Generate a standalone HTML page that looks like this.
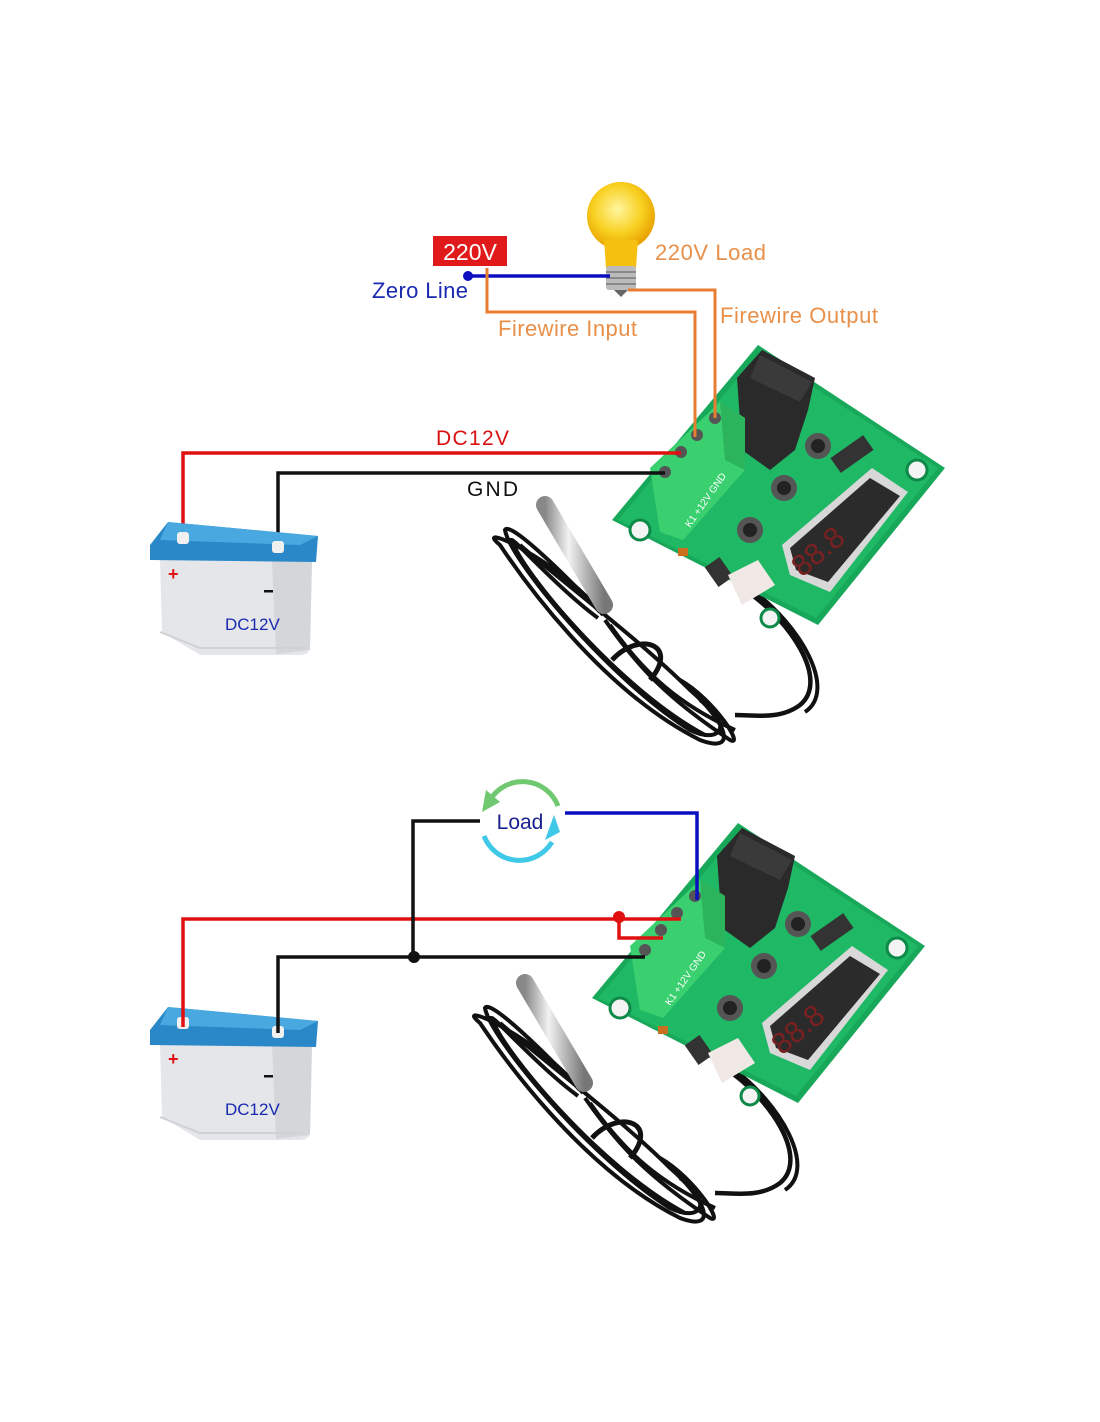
<!DOCTYPE html>
<html><head><meta charset="utf-8"><style>
html,body{margin:0;padding:0;background:#fff;}
svg{display:block;}
text{font-family:"Liberation Sans",sans-serif;}
</style></head><body>
<svg width="1100" height="1422" viewBox="0 0 1100 1422" xmlns="http://www.w3.org/2000/svg">
<defs>
<radialGradient id="bulb" cx="0.45" cy="0.4" r="0.6"><stop offset="0" stop-color="#fff6a0"/><stop offset="0.6" stop-color="#f8d020"/><stop offset="1" stop-color="#e8a000"/></radialGradient>
<linearGradient id="probe" x1="0" y1="0" x2="1" y2="0"><stop offset="0" stop-color="#888"/><stop offset="0.4" stop-color="#f2f2f2"/><stop offset="1" stop-color="#777"/></linearGradient>
<g id="board">
  <polygon points="612,520 758,345 945,468 818,625" fill="#17a85a"/>
  <polygon points="618,520 760,352 938,468 816,618" fill="#1fb865"/>
  <circle cx="640" cy="530" r="10" fill="#f4f4f4" stroke="#0e8a48" stroke-width="3"/>
  <circle cx="917" cy="470" r="10" fill="#f4f4f4" stroke="#0e8a48" stroke-width="3"/>
  <circle cx="770" cy="618" r="9" fill="#f4f4f4" stroke="#0e8a48" stroke-width="3"/>
  <polygon points="737,378 762,350 815,378 808,410 795,450 770,470 742,450" fill="#2a2a2a"/>
  <polygon points="760,355 812,382 800,402 750,378" fill="#3a3a3a"/>
  <polygon points="650,468 720,402 745,418 745,470 683,540 660,532" fill="#3ad070"/>
  <polygon points="720,402 745,418 745,470 725,460" fill="#2cb45c"/>
  <circle cx="665" cy="472" r="6" fill="#555"/><circle cx="681" cy="452" r="6" fill="#555"/>
  <circle cx="697" cy="435" r="6" fill="#555"/><circle cx="715" cy="418" r="6" fill="#555"/>
  <polygon points="782,545 872,468 908,492 830,592 790,575" fill="#d8d8d8"/>
  <polygon points="790,548 870,478 900,496 828,582 796,570" fill="#2b2b2b"/>
  <text x="0" y="0" font-size="30" fill="#7a2020" transform="translate(802,578) rotate(-40)">88.8</text>
  <rect x="832" y="445" width="40" height="18" fill="#333" transform="rotate(-35 852 454)"/>
  <circle cx="818" cy="446" r="13" fill="#555"/><circle cx="818" cy="446" r="7" fill="#222"/>
  <circle cx="784" cy="488" r="13" fill="#555"/><circle cx="784" cy="488" r="7" fill="#222"/>
  <circle cx="750" cy="530" r="13" fill="#555"/><circle cx="750" cy="530" r="7" fill="#222"/>
  <rect x="710" y="560" width="18" height="24" fill="#333" transform="rotate(-35 719 572)"/>
  <rect x="678" y="548" width="10" height="8" fill="#c87020"/>
  <polygon points="728,575 758,560 775,585 742,605" fill="#f0e8e4"/>
  <text x="0" y="0" font-size="10" fill="#fff" transform="translate(690,528) rotate(-55)">K1 +12V GND</text>
</g>
<g id="sensor" fill="none" stroke="#111" stroke-width="4">
  <path d="M603 615 C560 560 470 520 500 545 C520 575 600 690 700 740 C740 755 725 720 690 690 C640 640 560 580 520 545"/>
  <path d="M600 612 C570 580 510 520 505 530 C510 560 610 680 690 730 C720 745 735 725 700 700"/>
  <path d="M598 618 C560 590 515 540 512 540 C520 570 620 690 705 735"/>
  <path d="M605 620 C640 670 670 700 730 740 C745 748 715 700 680 680"/>
  <path d="M610 625 C645 675 680 705 735 730"/>
  <path d="M745 590 C790 620 830 680 800 705 C780 720 755 715 735 715" stroke-width="4.5"/>
  <path d="M752 590 C800 625 838 690 805 712"/>
  <path d="M612 660 C640 630 680 645 650 680" stroke-width="5"/>
  <line x1="545" y1="505" x2="604" y2="605" stroke="url(#probe)" stroke-width="18" stroke-linecap="round"/>
</g>
</defs>

<!-- TOP -->
<use href="#sensor"/>
<use href="#board"/>
<circle cx="621" cy="216" r="34" fill="url(#bulb)"/>
<path d="M604 240 L606 268 L636 268 L638 240 Z" fill="#f5c010"/>
<rect x="606" y="266" width="30" height="24" rx="3" fill="#bbb"/>
<path d="M606 272 H636 M606 278 H636 M606 284 H636" stroke="#777" stroke-width="1.5"/>
<path d="M614 290 H628 L621 297 Z" fill="#666"/>
<polyline points="183,542 183,453 681,453" fill="none" stroke="#e01010" stroke-width="3.5"/>
<polyline points="278,548 278,473 665,473" fill="none" stroke="#111" stroke-width="3.5"/>
<line x1="468" y1="276" x2="610" y2="276" stroke="#0a10c0" stroke-width="3.5"/>
<circle cx="468" cy="276" r="5" fill="#0a10c0"/>
<polyline points="487,268 487,312 695,312 695,437" fill="none" stroke="#e87c30" stroke-width="3"/>
<polyline points="628,290 715,290 715,418" fill="none" stroke="#e87c30" stroke-width="3"/>
<rect x="433" y="236" width="74" height="30" fill="#e01a1a"/>
<text x="470" y="260" font-size="23" fill="#fff" text-anchor="middle">220V</text>
<text x="372" y="298" font-size="22" fill="#1a2ab0" textLength="96">Zero Line</text>
<text x="655" y="260" font-size="22" fill="#e8904a" textLength="111">220V Load</text>
<text x="498" y="336" font-size="22" fill="#e8904a" textLength="139">Firewire Input</text>
<text x="720" y="323" font-size="22" fill="#e8904a" textLength="158">Firewire Output</text>
<text x="436" y="445" font-size="21" fill="#d81010" textLength="73">DC12V</text>
<text x="467" y="496" font-size="21" fill="#111" textLength="51">GND</text>

<g id="batt">
<path d="M160,560 H312 L310,648 Q308,656 298,655 H200 L162,632 Z" fill="#e4e6ea"/>
<polygon points="272,560 312,560 310,650 276,654" fill="#d4d6da"/>
<path d="M160,632 L200,648 H305" fill="none" stroke="#cfd1d5" stroke-width="2"/>
<polygon points="150,545 168,522 318,536 316,562 150,560" fill="#2a88c8"/>
<polygon points="168,522 318,536 300,545 160,540" fill="#4aa8e0"/>
<rect x="177" y="532" width="12" height="12" rx="3" fill="#f0f0f0"/>
<rect x="272" y="541" width="12" height="12" rx="3" fill="#f0f0f0"/>
<text x="168" y="580" font-size="18" fill="#e01010" font-weight="bold">+</text>
<rect x="264" y="590" width="9" height="2.5" fill="#111"/>
<text x="225" y="630" font-size="17" fill="#1a2ab0">DC12V</text>
</g>

<!-- BOTTOM -->
<g transform="translate(-20,478)"><use href="#sensor"/><use href="#board"/></g>
<use href="#batt" transform="translate(0,485)"/>
<polyline points="183,1027 183,919 681,919" fill="none" stroke="#e01010" stroke-width="3.5"/>
<polyline points="619,919 619,938 663,938" fill="none" stroke="#e01010" stroke-width="3.5"/>
<circle cx="619" cy="917" r="6" fill="#e01010"/>
<polyline points="278,1033 278,957 645,957" fill="none" stroke="#111" stroke-width="3.5"/>
<polyline points="413,957 413,821 480,821" fill="none" stroke="#111" stroke-width="3.5"/>
<circle cx="414" cy="957" r="6" fill="#111"/>
<polyline points="565,813 697,813 697,900" fill="none" stroke="#0a10c0" stroke-width="3.5"/>
<path d="M558 806 A38 38 0 0 0 490 800" fill="none" stroke="#70c870" stroke-width="5"/>
<polygon points="482,812 486,790 500,802" fill="#70c870"/>
<path d="M484 836 A38 38 0 0 0 552 842" fill="none" stroke="#40c8e8" stroke-width="5"/>
<polygon points="560,832 554,815 545,840" fill="#40c8e8"/>
<text x="520" y="829" font-size="21" fill="#1a2090" text-anchor="middle">Load</text>
</svg>
</body></html>
